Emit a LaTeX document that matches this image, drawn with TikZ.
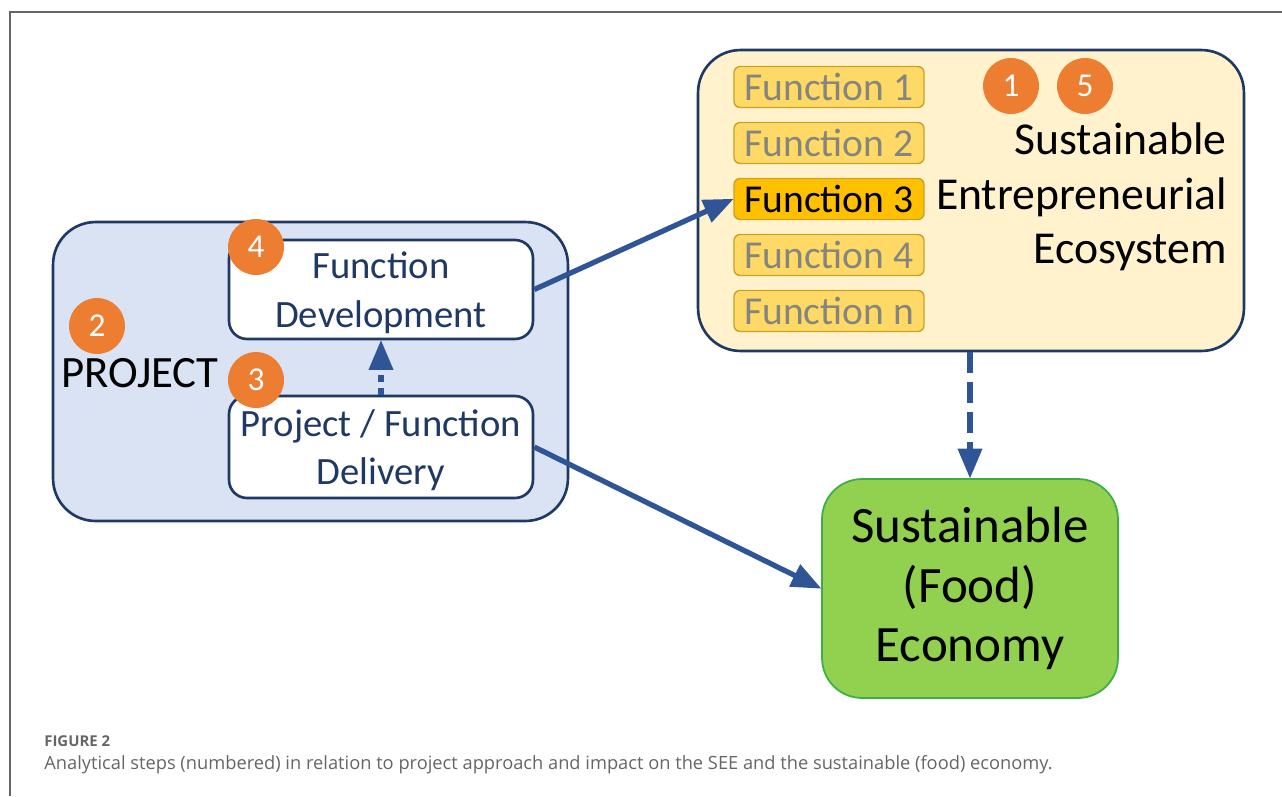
\documentclass[tikz,border=0pt]{standalone}
\usepackage{fontspec}
\setmainfont{Carlito}
\newfontfamily\capfont{Open Sans}
\usetikzlibrary{arrows,positioning}

\definecolor{navy}{HTML}{1F3864}
\definecolor{arrowblue}{HTML}{2F5597}
\definecolor{projfill}{HTML}{DAE3F3}
\definecolor{seefill}{HTML}{FFF2CC}
\definecolor{funcfill}{HTML}{FFD966}
\definecolor{funcdraw}{HTML}{C9A227}
\definecolor{functext}{HTML}{85857F}
\definecolor{activefill}{HTML}{FFC000}
\definecolor{stepcol}{HTML}{ED7D31}
\definecolor{econfill}{HTML}{92D050}
\definecolor{econdraw}{HTML}{3DAE45}
\definecolor{capgrey}{HTML}{666666}

\begin{document}
\begin{tikzpicture}[x=0.02cm,y=-0.02cm,>=triangle 45,node distance=1.12cm,
  bigbox/.style={draw=navy,line width=1.5pt,rounded corners=0.85cm},
  subbox/.style={draw=navy,line width=1.5pt,fill=white,rounded corners=0.36cm,
    text=navy,align=center,minimum width=6.08cm,inner sep=2pt,text depth=0pt,
    font=\fontsize{22}{27.5}\selectfont},
  funcbox/.style={draw=funcdraw,line width=0.8pt,fill=funcfill,rounded corners=0.12cm,
    text=functext,minimum width=3.8cm,minimum height=0.82cm,inner sep=0pt,
    font=\fontsize{22.5}{27}\selectfont},
  stepnum/.style={circle,fill=stepcol,text=white,minimum size=1.12cm,inner sep=0pt,
    font=\fontsize{19}{21}\selectfont},
  link/.style={->,draw=arrowblue,line width=3pt}]

\useasboundingbox (0,0) rectangle (1282,796);

% frame of the figure
\draw[gray!80!black,line width=0.6pt] (10,796) -- (10,12) -- (1282,12);

% the project and its two parts
\node[bigbox,fill=projfill,minimum width=10.3cm,minimum height=5.98cm] (proj) at (310.5,371.5) {};
\node[subbox,minimum height=1.98cm] (dev) at (381,289.5) {Function\\Development};
\node[subbox,minimum height=2.04cm] (del) at (381,447) {Project / Function\\Delivery};
\node[font=\fontsize{25.5}{30}\selectfont] (projlabel) at (140,373) {PROJECT};

% the ecosystem with its functions
\node[bigbox,fill=seefill,minimum width=10.92cm,minimum height=6.02cm] (see) at (971,200.5) {};
\node[funcbox] (f1) at (829,87) {Function 1};
\node[funcbox] (f2) [below of=f1] {Function 2};
\node[funcbox,fill=activefill,text=black] (f3) [below of=f2] {Function 3};
\node[funcbox] (f4) [below of=f3] {Function 4};
\node[funcbox] (fn) [below of=f4] {Function n};
\node[align=right,anchor=east,font=\fontsize{26}{31}\selectfont] (seelabel) at (1233,197)
  {Sustainable\\Entrepreneurial\\Ecosystem};

% the economy
\node[draw=econdraw,line width=1pt,fill=econfill,rounded corners=0.8cm,
  minimum width=5.92cm,minimum height=4.38cm,align=center,
  font=\fontsize{29}{34}\selectfont] (econ) at (970,588.5)
  {Sustainable\\(Food)\\Economy};

% numbered steps
\node[stepnum] (s1) at (1011,86) {1};
\node[stepnum] (s5) at (1085,86) {5};
\node[stepnum] (s2) at (97,326) {2};
\node[stepnum] (s3) at (256,380) {3};
\node[stepnum] (s4) at (256,247) {4};

% the links
\draw[link] (dev.east) -- (f3.west);
\draw[link] (del.east) -- (econ.west);
\draw[link,dash pattern=on 4pt off 3pt] (del.north) -- (dev.south);
\draw[link,dash pattern=on 12pt off 5pt] (see.south -| econ.north) -- (econ.north);

% caption
\node[anchor=base west,inner sep=0pt,text=capgrey,font=\capfont\bfseries\fontsize{8.5}{10}\selectfont] (fignum) at (44,746) {FIGURE 2};
\node[anchor=base west,inner sep=0pt,text=capgrey,font=\capfont\fontsize{10.4}{13}\selectfont] (caption) at (44,769)
  {Analytical steps (numbered) in relation to project approach and impact on the SEE and the sustainable (food) economy.};

\end{tikzpicture}
\end{document}
